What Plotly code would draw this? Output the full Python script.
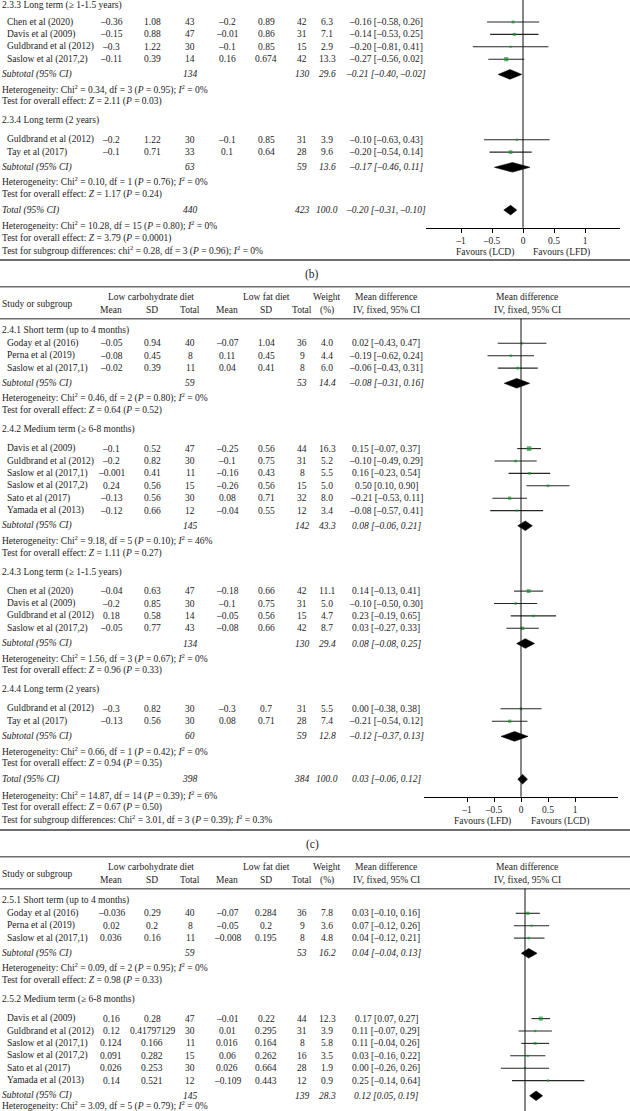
import plotly.graph_objects as go

W, H = 630, 1111
MINUS = "\u2013"

# ---------------- Panel (b): lower part (visible) ----------------
b_titles = ["2.3.3 Long term (\u2265 1-1.5 years)", "2.3.4 Long term (2 years)"]
b_grp = [0, 0, 0, 0, 1, 1]
b_study = ["Chen et al (2020)", "Davis et al (2009)", "Guldbrand et al (2012)", "Saslow et al (2017,2)",
           "Guldbrand et al (2012)", "Tay et al (2017)"]
b_lcd_mean = [-0.36, -0.15, -0.3, -0.11, -0.2, -0.1]
b_lcd_sd = [1.08, 0.88, 1.22, 0.39, 1.22, 0.71]
b_lcd_n = [43, 47, 30, 14, 30, 33]
b_lfd_mean = [-0.2, -0.01, -0.1, 0.16, -0.1, 0.1]
b_lfd_sd = [0.89, 0.86, 0.85, 0.674, 0.85, 0.64]
b_lfd_n = [42, 31, 15, 42, 31, 28]
b_weight = [6.3, 7.1, 2.9, 13.3, 3.9, 9.6]
b_md = [-0.16, -0.14, -0.20, -0.27, -0.10, -0.20]
b_lo = [-0.58, -0.53, -0.81, -0.56, -0.63, -0.54]
b_hi = [0.26, 0.25, 0.41, 0.02, 0.43, 0.14]
b_sub_lcd_n = [134, 63]
b_sub_lfd_n = [130, 59]
b_sub_weight = [29.6, 13.6]
b_sub_md = [-0.21, -0.17]
b_sub_lo = [-0.40, -0.46]
b_sub_hi = [-0.02, 0.11]
b_sub_het = [("0.34", "3", "0.95", "0"), ("0.10", "1", "0.76", "0")]
b_sub_z = [("2.11", "0.03"), ("1.17", "0.24")]
b_total = (440, 423, 100.0, -0.20, -0.31, -0.10)
b_total_het = ("10.28", "15", "0.80", "0")
b_total_z = ("3.79", "0.0001")
b_subdiff = ("chi", "0.28", "3", "0.96", "0")
b_favours = ["Favours (LCD)", "Favours (LFD)"]

# ---------------- Panel (c) ----------------
c_titles = ["2.4.1 Short term (up to 4 months)", "2.4.2 Medium term (\u2265 6-8 months)",
            "2.4.3 Long term (\u2265 1-1.5 years)", "2.4.4 Long term (2 years)"]
c_grp = [0, 0, 0, 1, 1, 1, 1, 1, 1, 2, 2, 2, 2, 3, 3]
c_study = ["Goday et al (2016)", "Perna et al (2019)", "Saslow et al (2017,1)",
           "Davis et al (2009)", "Guldbrand et al (2012)", "Saslow et al (2017,1)", "Saslow et al (2017,2)",
           "Sato et al (2017)", "Yamada et al (2013)",
           "Chen et al (2020)", "Davis et al (2009)", "Guldbrand et al (2012)", "Saslow et al (2017,2)",
           "Guldbrand et al (2012)", "Tay et al (2017)"]
c_lcd_mean = [-0.05, -0.08, -0.02, -0.1, -0.2, -0.001, 0.24, -0.13, -0.12, -0.04, -0.2, 0.18, -0.05, -0.3, -0.13]
c_lcd_sd = [0.94, 0.45, 0.39, 0.52, 0.82, 0.41, 0.56, 0.56, 0.66, 0.63, 0.85, 0.58, 0.77, 0.82, 0.56]
c_lcd_n = [40, 8, 11, 47, 30, 11, 15, 30, 12, 47, 30, 14, 43, 30, 30]
c_lfd_mean = [-0.07, 0.11, 0.04, -0.25, -0.1, -0.16, -0.26, 0.08, -0.04, -0.18, -0.1, -0.05, -0.08, -0.3, 0.08]
c_lfd_sd = [1.04, 0.45, 0.41, 0.56, 0.75, 0.43, 0.56, 0.71, 0.55, 0.66, 0.75, 0.56, 0.66, 0.7, 0.71]
c_lfd_n = [36, 9, 8, 44, 31, 8, 15, 32, 12, 42, 31, 15, 42, 31, 28]
c_weight = [4.0, 4.4, 6.0, 16.3, 5.2, 5.5, 5.0, 8.0, 3.4, 11.1, 5.0, 4.7, 8.7, 5.5, 7.4]
c_md = [0.02, -0.19, -0.06, 0.15, -0.10, 0.16, 0.50, -0.21, -0.08, 0.14, -0.10, 0.23, 0.03, 0.00, -0.21]
c_lo = [-0.43, -0.62, -0.43, -0.07, -0.49, -0.23, 0.10, -0.53, -0.57, -0.13, -0.50, -0.19, -0.27, -0.38, -0.54]
c_hi = [0.47, 0.24, 0.31, 0.37, 0.29, 0.54, 0.90, 0.11, 0.41, 0.41, 0.30, 0.65, 0.33, 0.38, 0.12]
c_sub_lcd_n = [59, 145, 134, 60]
c_sub_lfd_n = [53, 142, 130, 59]
c_sub_weight = [14.4, 43.3, 29.4, 12.8]
c_sub_md = [-0.08, 0.08, 0.08, -0.12]
c_sub_lo = [-0.31, -0.06, -0.08, -0.37]
c_sub_hi = [0.16, 0.21, 0.25, 0.13]
c_sub_het = [("0.46", "2", "0.80", "0"), ("9.18", "5", "0.10", "46"),
             ("1.56", "3", "0.67", "0"), ("0.66", "1", "0.42", "0")]
c_sub_z = [("0.64", "0.52"), ("1.11", "0.27"), ("0.96", "0.33"), ("0.94", "0.35")]
c_total = (398, 384, 100.0, 0.03, -0.06, 0.12)
c_total_het = ("14.87", "14", "0.39", "6")
c_total_z = ("0.67", "0.50")
c_subdiff = ("Chi", "3.01", "3", "0.39", "0.3")
c_favours = ["Favours (LFD)", "Favours (LCD)"]

# ---------------- Panel (d): upper part (visible) ----------------
d_titles = ["2.5.1 Short term (up to 4 months)", "2.5.2 Medium term (\u2265 6-8 months)"]
d_grp = [0, 0, 0, 1, 1, 1, 1, 1, 1]
d_study = ["Goday et al (2016)", "Perna et al (2019)", "Saslow et al (2017,1)",
           "Davis et al (2009)", "Guldbrand et al (2012)", "Saslow et al (2017,1)", "Saslow et al (2017,2)",
           "Sato et al (2017)", "Yamada et al (2013)"]
d_lcd_mean = [-0.036, 0.02, 0.036, 0.16, 0.12, 0.124, 0.091, 0.026, 0.14]
d_lcd_sd = [0.29, 0.2, 0.16, 0.28, 0.41797129, 0.166, 0.282, 0.253, 0.521]
d_lcd_n = [40, 8, 11, 47, 30, 11, 15, 30, 12]
d_lfd_mean = [-0.07, -0.05, -0.008, -0.01, 0.01, 0.016, 0.06, 0.026, -0.109]
d_lfd_sd = [0.284, 0.2, 0.195, 0.22, 0.295, 0.164, 0.262, 0.664, 0.443]
d_lfd_n = [36, 9, 8, 44, 31, 8, 16, 28, 12]
d_weight = [7.8, 3.6, 4.8, 12.3, 3.9, 5.8, 3.5, 1.9, 0.9]
d_md = [0.03, 0.07, 0.04, 0.17, 0.11, 0.11, 0.03, 0.00, 0.25]
d_lo = [-0.10, -0.12, -0.12, 0.07, -0.07, -0.04, -0.16, -0.26, -0.14]
d_hi = [0.16, 0.26, 0.21, 0.27, 0.29, 0.26, 0.22, 0.26, 0.64]
d_sub_lcd_n = [59, 145]
d_sub_lfd_n = [53, 139]
d_sub_weight = [16.2, 28.3]
d_sub_md = [0.04, 0.12]
d_sub_lo = [-0.04, 0.05]
d_sub_hi = [0.13, 0.19]
d_sub_het = [("0.09", "2", "0.95", "0"), ("3.09", "5", "0.79", "0")]
d_sub_z = [("0.98", "0.33"), None]

# header labels
hdr_top = ["Low carbohydrate diet", "Low fat diet", "Weight", "Mean difference", "Mean difference"]
hdr_bot = ["Mean", "SD", "Total", "Mean", "SD", "Total", "(%)", "IV, fixed, 95% CI", "IV, fixed, 95% CI"]
hdr_study = "Study or subgroup"
tick_vals = [-1, -0.5, 0, 0.5, 1]
tick_text = [MINUS + "1", MINUS + "0.5", "0", "0.5", "1"]

# ---------------- styling / geometry ----------------
FONT = "Liberation Serif"
FS = 9.5
TXT = "#1c1c1c"
GRID = "#6e6e6e"
GREEN = "#16932a"
COLX = [111, 152, 190, 227, 266, 302, 327, 386]   # table column centres
HDR_TOP_X = [151, 266, 327, 386, 527]
HDR_BOT_X = [111, 152, 190, 227, 266, 302, 327, 386, 527]
PITCH, G_TITLE, G_SUB, G_HET, G_TEST, G_NEXT = 12.4, 19.0, 15.2, 14.6, 12.7, 19.0
G_TOT, G_THET, G_TTEST, G_TSUB, G_AXIS = 15.5, 15.8, 12.3, 12.2, 17.6

annotations, shapes, traces = [], [], []


def fnum(v):
    return str(v).replace("-", MINUS)


def f2(v):
    s = f"{v:.2f}"
    if s == "-0.00":
        s = "0.00"
    return s.replace("-", MINUS)


def ci_text(md, lo, hi):
    return f"{f2(md)} [{f2(lo)}, {f2(hi)}]"


def het_text(chi, df, p, i2, word="Chi"):
    return (f"Heterogeneity: {word}<sup>2</sup> = {chi}, df = {df} (<i>P</i> = {p}); "
            f"<i>I</i><sup>2</sup> = {i2}%")


def z_text(z, p):
    return f"Test for overall effect: <i>Z</i> = {z} (<i>P</i> = {p})"


def txt(x, y, s, anchor="center", italic=False, size=FS):
    if italic:
        s = f"<i>{s}</i>"
    y = min(y, H - 6)   # keep the last, partly visible line on the page
    annotations.append(dict(x=x, y=y, xref="x", yref="y", text=s, showarrow=False,
                            xanchor=anchor, yanchor="middle", borderpad=0,
                            font=dict(family=FONT, size=size, color=TXT)))


def hline(y, width=1.6, color=GRID):
    shapes.append(dict(type="line", xref="paper", yref="y", x0=0, x1=1, y0=y, y1=y,
                       line=dict(color=color, width=width)))


def header(sep, label):
    txt(312, sep + 14.5, label, size=11.5)
    hline(sep + 26.7)
    for s, x in zip(hdr_top, HDR_TOP_X):
        txt(x, sep + 36.8, s)
    for s, x in zip(hdr_bot, HDR_BOT_X):
        txt(x, sep + 50.2, s)
    txt(1, sep + 43.5, hdr_study, anchor="left")
    hline(sep + 58.7)


def draw_panel(p, ax, title0, first_gap):
    y = title0
    sy, suby = [], []
    for g, title in enumerate(p["titles"]):
        if g > 0:
            y += G_NEXT
        txt(1, y, title, anchor="left")
        y += first_gap if g == 0 else G_TITLE
        idx = [i for i in range(len(p["study"])) if p["grp"][i] == g]
        for k, i in enumerate(idx):
            if k > 0:
                y += PITCH
            sy.append(y)
            txt(6, y, p["study"][i], anchor="left")
            vals = [fnum(p["m1"][i]), fnum(p["s1"][i]), str(p["n1"][i]),
                    fnum(p["m2"][i]), fnum(p["s2"][i]), str(p["n2"][i]),
                    f"{p['w'][i]:.1f}", ci_text(p["md"][i], p["lo"][i], p["hi"][i])]
            for v, x in zip(vals, COLX):
                txt(x, y, v)
        y += G_SUB
        suby.append(y)
        txt(1, y, "Subtotal (95% CI)", anchor="left", italic=True)
        txt(COLX[2], y, str(p["sn1"][g]), italic=True)
        txt(COLX[5], y, str(p["sn2"][g]), italic=True)
        txt(COLX[6], y, f"{p['sw'][g]:.1f}", italic=True)
        txt(COLX[7], y, ci_text(p["smd"][g], p["slo"][g], p["shi"][g]), italic=True)
        y += G_HET
        txt(1, y, het_text(*p["shet"][g]), anchor="left")
        if p["sz"][g] is not None:
            y += G_TEST
            txt(1, y, z_text(*p["sz"][g]), anchor="left")
    axis_y = None
    ty = None
    if p.get("total") is not None:
        n1, n2, w, md, lo, hi = p["total"]
        y += G_TOT
        ty = y
        txt(1, y, "Total (95% CI)", anchor="left", italic=True)
        txt(COLX[2], y, str(n1), italic=True)
        txt(COLX[5], y, str(n2), italic=True)
        txt(COLX[6], y, f"{w:.1f}", italic=True)
        txt(COLX[7], y, ci_text(md, lo, hi), italic=True)
        y += G_THET
        txt(1, y, het_text(*p["thet"]), anchor="left")
        y += G_TTEST
        txt(1, y, z_text(*p["tz"]), anchor="left")
        y += G_TSUB
        word, chi, df, pv, i2 = p["sdiff"]
        txt(1, y, (f"Test for subgroup differences: {word}<sup>2</sup> = {chi}, df = {df} "
                   f"(<i>P</i> = {pv}); <i>I</i><sup>2</sup> = {i2}%"), anchor="left")
        axis_y = ty + G_AXIS

    # forest plot: CI lines
    xs, ys = [], []
    for i in range(len(p["study"])):
        xs += [p["lo"][i], p["hi"][i], None]
        ys += [sy[i], sy[i], None]
    traces.append(go.Scatter(x=xs, y=ys, mode="lines", xaxis=ax, yaxis="y",
                             line=dict(color="#262626", width=1.1), hoverinfo="skip"))
    traces.append(go.Scatter(x=p["md"], y=sy, mode="markers", xaxis=ax, yaxis="y",
                             marker=dict(symbol="square", color=GREEN,
                                         size=[max(2.2, 1.15 * w ** 0.5) for w in p["w"]],
                                         line=dict(width=0)), hoverinfo="skip"))
    # diamonds
    dx, dy = [], []
    dia = list(zip(p["smd"], p["slo"], p["shi"], suby))
    if ty is not None:
        dia.append((p["total"][3], p["total"][4], p["total"][5], ty))
    for md, lo, hi, yy in dia:
        dx += [lo, md, hi, md, lo, None]
        dy += [yy, yy - 4.8, yy, yy + 4.8, yy, None]
    traces.append(go.Scatter(x=dx, y=dy, mode="lines", fill="toself", fillcolor="black",
                             xaxis=ax, yaxis="y", line=dict(color="black", width=0.6),
                             hoverinfo="skip"))
    return axis_y


def panel(prefix):
    g = globals()
    p = dict(titles=g[prefix + "_titles"], grp=g[prefix + "_grp"], study=g[prefix + "_study"],
             m1=g[prefix + "_lcd_mean"], s1=g[prefix + "_lcd_sd"], n1=g[prefix + "_lcd_n"],
             m2=g[prefix + "_lfd_mean"], s2=g[prefix + "_lfd_sd"], n2=g[prefix + "_lfd_n"],
             w=g[prefix + "_weight"], md=g[prefix + "_md"], lo=g[prefix + "_lo"], hi=g[prefix + "_hi"],
             sn1=g[prefix + "_sub_lcd_n"], sn2=g[prefix + "_sub_lfd_n"], sw=g[prefix + "_sub_weight"],
             smd=g[prefix + "_sub_md"], slo=g[prefix + "_sub_lo"], shi=g[prefix + "_sub_hi"],
             shet=g[prefix + "_sub_het"], sz=g[prefix + "_sub_z"])
    if prefix + "_total" in g:
        p.update(total=g[prefix + "_total"], thet=g[prefix + "_total_het"],
                 tz=g[prefix + "_total_z"], sdiff=g[prefix + "_subdiff"])
    return p


SEP_C, SEP_D = 260, 830
# forest geometry: (zero px, px per unit, left px, right px)
GEO = {"x2": (523, 62.0, 426, 620), "x3": (521, 54.0, 424, 618), "x4": (525, 92.7, 426, 620)}

axis_b = draw_panel(panel("b"), "x2", 5.5, 16.5)
hline(SEP_C, width=1.8)
header(SEP_C, "(b)")
axis_c = draw_panel(panel("c"), "x3", SEP_C + 70.8, 12.5)
hline(SEP_D, width=1.8)
header(SEP_D, "(c)")
draw_panel(panel("d"), "x4", SEP_D + 70.8, 12.5)

# zero lines
shapes.append(dict(type="line", xref="x2", yref="y", x0=0, x1=0, y0=0, y1=axis_b,
                   line=dict(color="#111111", width=1)))
shapes.append(dict(type="line", xref="x3", yref="y", x0=0, x1=0, y0=SEP_C + 58.7, y1=axis_c,
                   line=dict(color="#111111", width=1)))
shapes.append(dict(type="line", xref="x4", yref="y", x0=0, x1=0, y0=SEP_D + 58.7, y1=H,
                   line=dict(color="#111111", width=1)))

# favours labels
for (ax_y, key, fav) in [(axis_b, "x2", b_favours), (axis_c, "x3", c_favours)]:
    z0 = GEO[key][0]
    txt(z0 - 38.5, ax_y + 24.5, fav[0])
    txt(z0 + 38.5, ax_y + 24.5, fav[1])


def forest_axis(key, axis_y, visible=True):
    z0, ppu, l, r = GEO[key]
    d = dict(domain=[l / W, r / W], range=[(l - z0) / ppu, (r - z0) / ppu], anchor="free",
             position=(1 - axis_y / H) if axis_y is not None else 0, showgrid=False,
             zeroline=False, fixedrange=True, automargin=False, visible=visible)
    if visible:
        d.update(showline=True, linecolor="black", linewidth=1, ticks="outside", ticklen=4,
                 tickcolor="black", tickwidth=1, tickvals=tick_vals, ticktext=tick_text,
                 tickfont=dict(family=FONT, size=FS, color=TXT))
    return d


fig = go.Figure(data=traces)
fig.update_layout(
    template="none", width=W, height=H, margin=dict(l=0, r=0, t=0, b=0),
    paper_bgcolor="white", plot_bgcolor="rgba(0,0,0,0)", showlegend=False,
    xaxis=dict(range=[0, W], domain=[0, 1], visible=False, fixedrange=True, automargin=False),
    yaxis=dict(range=[H, 0], domain=[0, 1], visible=False, fixedrange=True, automargin=False),
    xaxis2=forest_axis("x2", axis_b),
    xaxis3=forest_axis("x3", axis_c),
    xaxis4=forest_axis("x4", None, visible=False),
    annotations=annotations, shapes=shapes,
)
fig.write_html("out.html", config={"displayModeBar": False},
               post_script="document.body.style.margin='0px';document.body.style.overflow='hidden';")
